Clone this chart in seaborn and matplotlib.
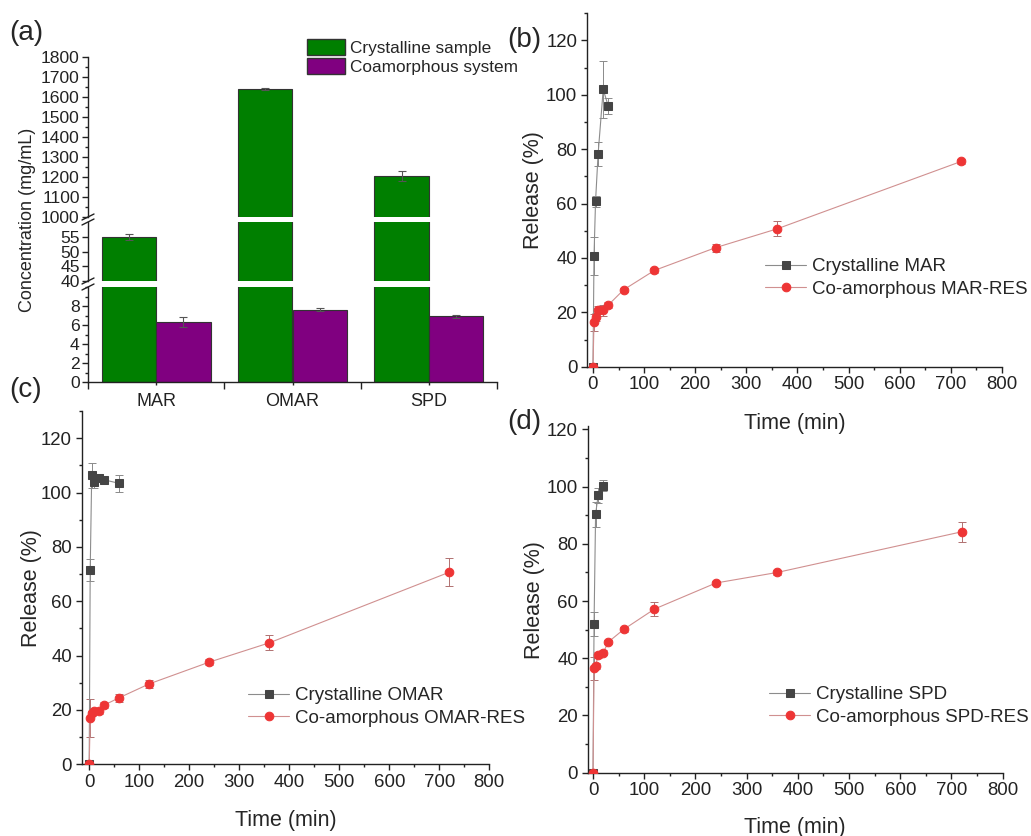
import numpy as np
import pandas as pd
import seaborn as sns
import matplotlib.pyplot as plt
from matplotlib.ticker import MultipleLocator
from matplotlib.patches import Patch
from matplotlib.lines import Line2D

# ---- data -------------------------------------------------------------
categories = ["MAR", "OMAR", "SPD"]
crystalline = [55.0, 1640.0, 1203.0]
crystalline_err = [1.1, 5.0, 25.0]
coamorphous = [6.3, 7.6, 6.9]
coamorphous_err = [0.55, 0.15, 0.12]

t_long = [0, 2, 5, 10, 20, 30, 60, 120, 240, 360, 720]

mar_t = [0, 2, 5, 10, 20, 30]
mar_cr = [0, 40.6, 60.8, 78.2, 102.0, 95.8]
mar_cr_err = [0, 7.0, 2.0, 4.5, 10.5, 3.0]
mar_res = [0, 16.3, 18.3, 21.0, 20.8, 22.7, 28.3, 35.4, 43.8, 50.7, 75.5]
mar_res_err = [0, 3.2, 1.5, 1.5, 2.0, 1.0, 0.8, 1.0, 1.5, 2.8, 0.8]

omar_t = [0, 2, 5, 10, 20, 30, 60]
omar_cr = [0, 71.5, 106.3, 103.8, 105.3, 104.7, 103.4]
omar_cr_err = [0, 4.0, 4.5, 2.0, 1.5, 1.0, 3.0]
omar_res = [0, 17.0, 18.7, 19.8, 19.5, 21.8, 24.5, 29.6, 37.6, 44.7, 70.7]
omar_res_err = [0, 7.0, 1.0, 1.0, 1.0, 1.0, 1.5, 1.5, 1.0, 2.8, 5.2]

spd_t = [0, 2, 5, 10, 20]
spd_cr = [0, 52.0, 90.3, 97.0, 100.3]
spd_cr_err = [0, 4.3, 4.3, 2.6, 2.0]
spd_res = [0, 36.5, 37.3, 41.1, 42.0, 45.7, 50.1, 57.2, 66.3, 70.0, 84.2]
spd_res_err = [0, 4.0, 1.0, 1.0, 0.8, 0.8, 0.8, 2.3, 0.8, 0.8, 3.5]

# ---- style ------------------------------------------------------------
sns.set_theme(style="ticks")
plt.rcParams["font.family"] = ["Liberation Sans", "DejaVu Sans"]
plt.rcParams.update({
    "axes.edgecolor": "#222222", "axes.linewidth": 1.0,
    "axes.facecolor": "none",
    "xtick.color": "#222222", "ytick.color": "#222222",
    "xtick.major.size": 4, "ytick.major.size": 4,
    "xtick.minor.size": 2.5, "ytick.minor.size": 2.5,
    "xtick.major.width": 1, "ytick.major.width": 1,
    "xtick.minor.width": 1, "ytick.minor.width": 1,
})

W, H = 1031, 836
fig = plt.figure(figsize=(W / 100, H / 100), dpi=100)


def box(l, t, r, b):
    return [l / W, 1 - b / H, (r - l) / W, (b - t) / H]


# ---- (a) broken-axis bar chart ----------------------------------------
bars = pd.DataFrame({
    "sample": categories * 2,
    "group": ["Crystalline sample"] * 3 + ["Coamorphous system"] * 3,
    "conc": crystalline + coamorphous,
})
bar_colors = ["#007f00", "#800080"]
segments = [
    (box(88, 57, 497, 217), (1000, 1800), 100, 50),
    (box(88, 222, 497, 281), (40, 60), 5, None),
    (box(88, 287, 497, 382), (0, 10), 2, 1),
]
xs = np.arange(len(categories))
for k, (rect, ylim, major, minor) in enumerate(segments):
    ax = fig.add_axes(rect)
    ax.set_facecolor("none")
    sns.barplot(data=bars, x="sample", y="conc", hue="group", palette=bar_colors,
                saturation=1, errorbar=None, width=0.8, edgecolor="#333333",
                linewidth=0.8, legend=False, ax=ax)
    ax.errorbar(xs - 0.2, crystalline, yerr=crystalline_err, fmt="none",
                ecolor="#555555", elinewidth=0.8, capsize=3, capthick=0.8)
    ax.errorbar(xs + 0.2, coamorphous, yerr=coamorphous_err, fmt="none",
                ecolor="#555555", elinewidth=0.8, capsize=3, capthick=0.8)
    ax.set_ylim(*ylim)
    ax.set_xlim(-0.5, 2.5)
    ax.yaxis.set_major_locator(MultipleLocator(major))
    if minor:
        ax.yaxis.set_minor_locator(MultipleLocator(minor))
    ax.set_ylabel("")
    ax.set_xlabel("")
    ax.tick_params(axis="y", labelsize=12.6, pad=2)
    for s in ["top", "right"]:
        ax.spines[s].set_visible(False)
    if k == 1:
        ax.set_yticks([40, 45, 50, 55])
    if k == 2:
        ax.set_yticks([0, 2, 4, 6, 8])
    if k < 2:
        ax.spines["bottom"].set_visible(False)
        ax.tick_params(axis="x", bottom=False, labelbottom=False)
    else:
        ax.set_xticks(xs)
        ax.set_xticklabels(categories)
        ax.set_xticks([-0.5, 0.5, 1.5, 2.5], minor=True)
        ax.tick_params(axis="x", which="major", length=2, labelsize=13, pad=6)
        ax.tick_params(axis="x", which="minor", length=5)

# break marks on the left spine
for yb in [217, 222, 281, 287]:
    fig.add_artist(Line2D([82 / W, 94 / W], [1 - (yb + 3) / H, 1 - (yb - 3) / H],
                          color="#222222", lw=1))

fig.text(28 / W, 1 - 220 / H, "Concentration (mg/mL)", rotation=90,
         ha="center", va="center", fontsize=13)
fig.legend(handles=[Patch(facecolor=c, edgecolor="#333333", label=l)
                    for c, l in zip(bar_colors, ["Crystalline sample", "Coamorphous system"])],
           loc="upper left", bbox_to_anchor=(307 / W, 1 - 39 / H), frameon=False,
           fontsize=12.4, handlelength=2.2, handleheight=1.05, labelspacing=0.15,
           handletextpad=0.3, borderpad=0, borderaxespad=0)


# ---- (b)-(d) release profiles ----------------------------------------
def release(rect, xlim, ylim, t_cr, y_cr, e_cr, y_co, e_co, names, leg_xy, pads):
    ax = fig.add_axes(rect)
    ax.set_facecolor("none")
    ax.errorbar(t_cr, y_cr, yerr=e_cr, fmt="none", ecolor="#8a8a8a",
                elinewidth=0.7, capsize=3, capthick=0.7, zorder=1)
    ax.errorbar(t_long, y_co, yerr=e_co, fmt="none", ecolor="#b07070",
                elinewidth=0.7, capsize=3, capthick=0.7, zorder=1)
    sns.lineplot(x=t_cr, y=y_cr, ax=ax, color="#8c8c8c", lw=0.8, marker="s",
                 markersize=5.5, markerfacecolor="#454545", markeredgecolor="#454545",
                 label=names[0], zorder=3)
    sns.lineplot(x=t_long, y=y_co, ax=ax, color="#d09090", lw=0.8, marker="o",
                 markersize=6.2, markerfacecolor="#ee3535", markeredgecolor="#ee3535",
                 label=names[1], zorder=3)
    ax.set_xlim(*xlim)
    ax.set_ylim(*ylim)
    ax.xaxis.set_major_locator(MultipleLocator(100))
    ax.xaxis.set_minor_locator(MultipleLocator(50))
    ax.yaxis.set_major_locator(MultipleLocator(20))
    ax.yaxis.set_minor_locator(MultipleLocator(10))
    ax.tick_params(which="both", labelsize=13.4, pad=3)
    ax.set_xlabel("Time (min)", fontsize=15.5, labelpad=pads[0])
    ax.set_ylabel("Release (%)", fontsize=15.5, labelpad=pads[1])
    for s in ["top", "right"]:
        ax.spines[s].set_visible(False)
    ax.legend(loc="center left", bbox_to_anchor=(leg_xy[0] / W, 1 - leg_xy[1] / H),
              bbox_transform=fig.transFigure, frameon=False, fontsize=13.5,
              handlelength=2.2, handletextpad=0.3, labelspacing=0.3,
              borderpad=0, borderaxespad=0)
    return ax


release(box(587, 13.3, 1002, 366.7), (-11.7, 800), (0, 130),
        mar_t, mar_cr, mar_cr_err, mar_res, mar_res_err,
        ["Crystalline MAR", "Co-amorphous MAR-RES"], (765, 278), (14, 1.5))
release(box(81.7, 411.1, 489.3, 764.3), (-15, 800), (0, 130),
        omar_t, omar_cr, omar_cr_err, omar_res, omar_res_err,
        ["Crystalline OMAR", "Co-amorphous OMAR-RES"], (248, 707), (14, -1))
release(box(587.7, 426.5, 1002.7, 772.7), (-10.4, 800), (0, 121),
        spd_t, spd_cr, spd_cr_err, spd_res, spd_res_err,
        ["Crystalline SPD", "Co-amorphous SPD-RES"], (769, 706), (12.5, 1))

# panel letters
for txt, x, y in [("(a)", 9, 33), ("(b)", 507, 40), ("(c)", 9, 390), ("(d)", 507, 422)]:
    fig.text(x / W, 1 - y / H, txt, fontsize=20, ha="left", va="center")

fig.savefig("out.png", dpi=100)
